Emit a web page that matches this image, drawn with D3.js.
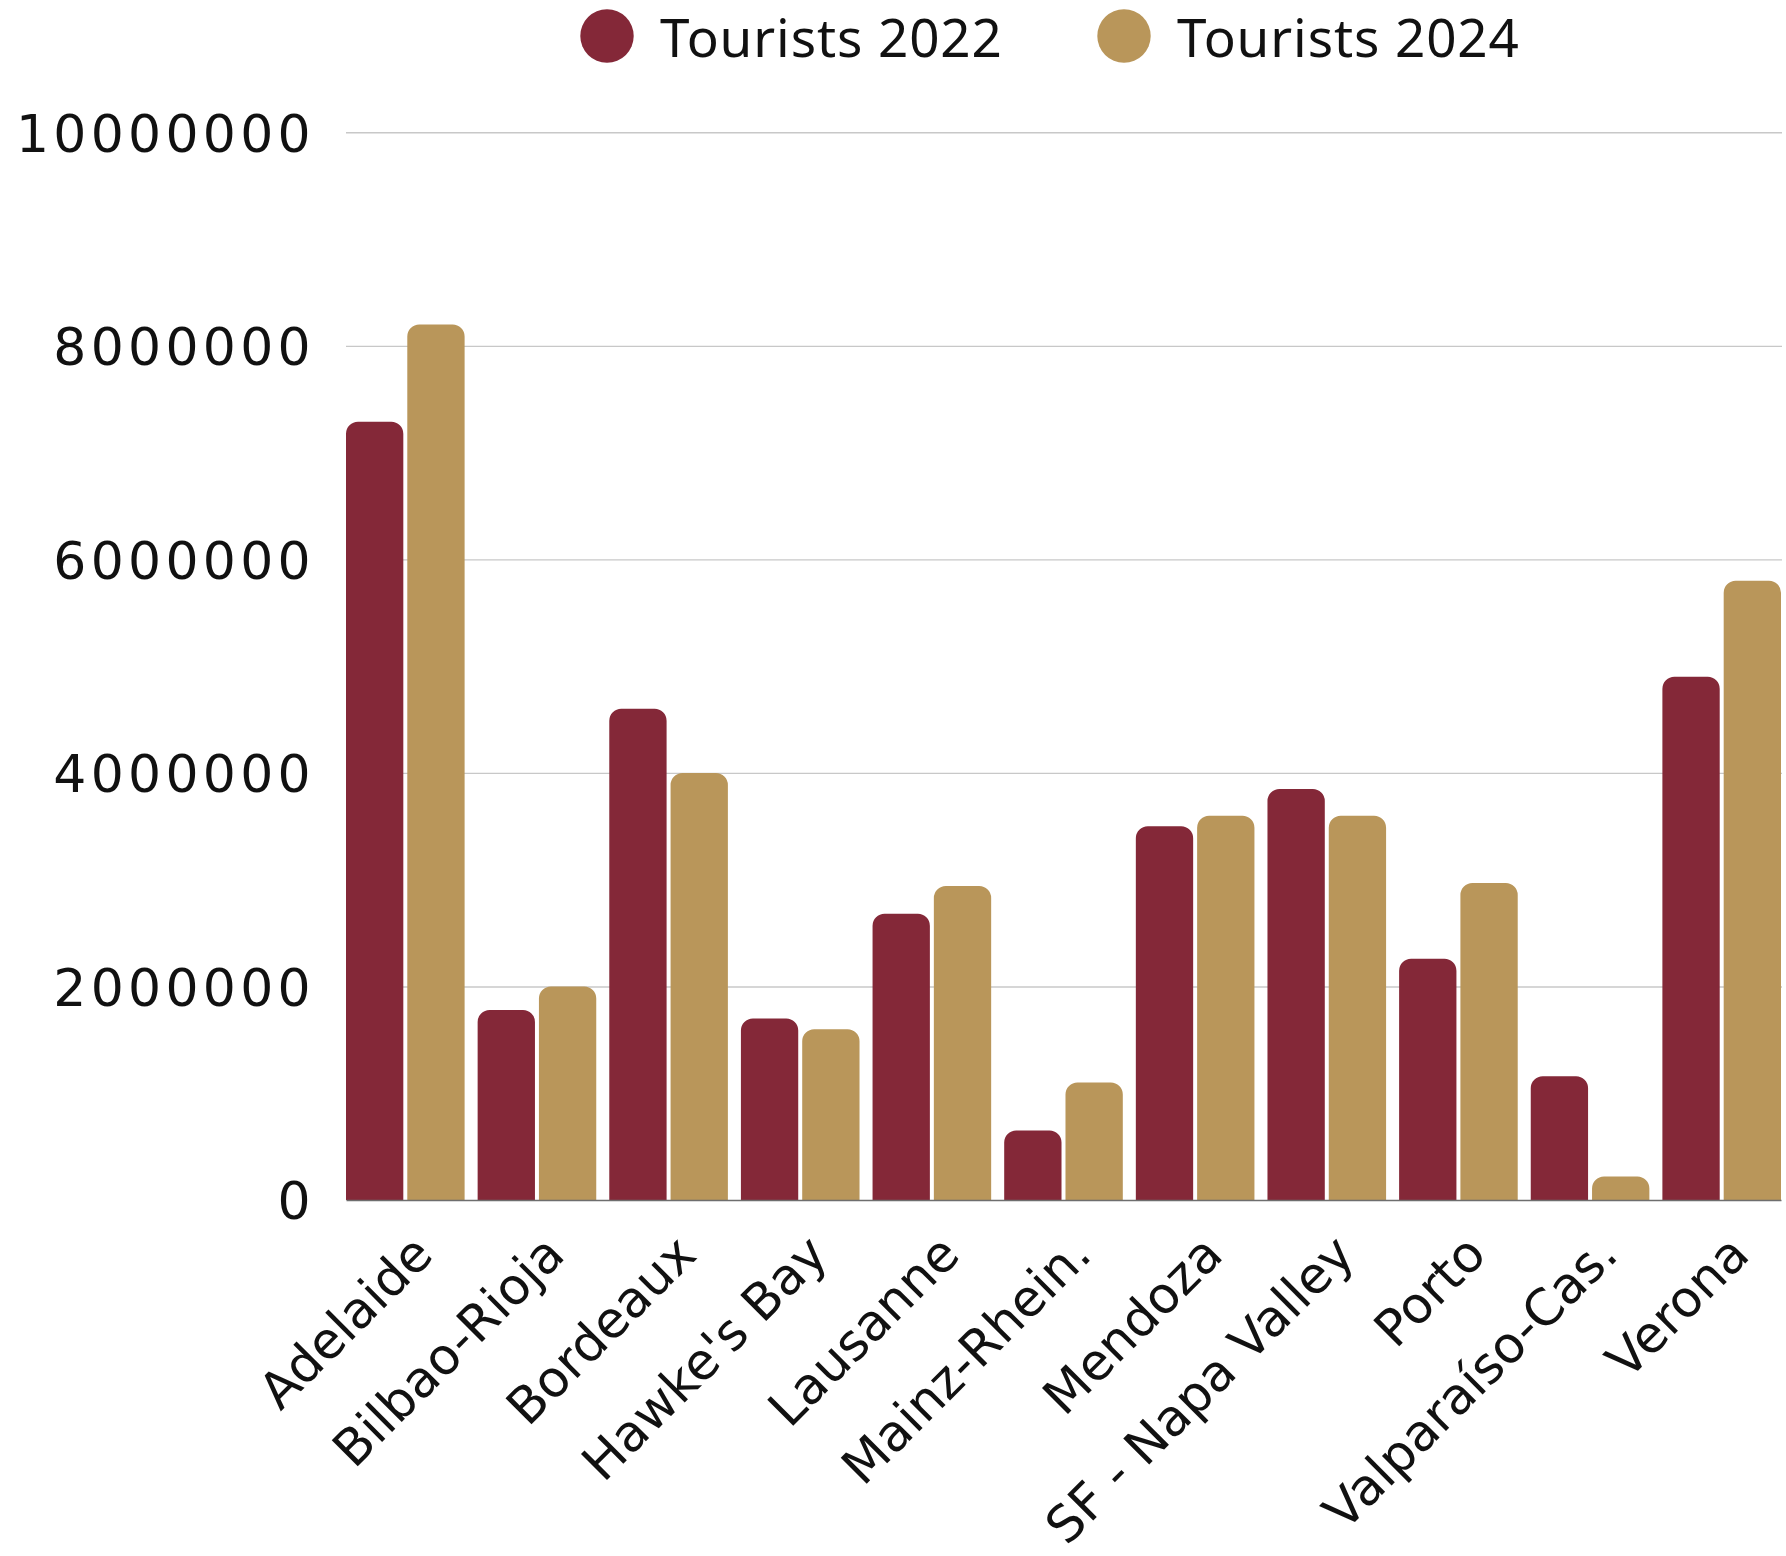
<!DOCTYPE html>
<html>
<head>
<meta charset="utf-8">
<script src="https://cdn.jsdelivr.net/npm/d3@7"></script>
<style>
  html, body { margin: 0; padding: 0; background: #ffffff; }
  svg { display: block; }
</style>
</head>
<body>
<svg id="chart" width="1786" height="1556"></svg>
<script>
// Wine-region visitor counts, two survey years
const regions = ["Adelaide", "Bilbao-Rioja", "Bordeaux", "Hawke's Bay", "Lausanne",
  "Mainz-Rhein.", "Mendoza", "SF - Napa Valley", "Porto", "Valparaíso-Cas.", "Verona"];
const seriesNames = ["Tourists 2022", "Tourists 2024"];
const tourists2022 = [7290000, 1780000, 4600000, 1700000, 2680000, 650000, 3500000, 3850000, 2260000, 1160000, 4900000];
const tourists2024 = [8200000, 2000000, 4000000, 1600000, 2940000, 1100000, 3600000, 3600000, 2970000, 220000, 5800000];
const yTicks = [0, 2000000, 4000000, 6000000, 8000000, 10000000];
const colors = ["#842838", "#b9965a"];

const svg = d3.select("#chart");
const margin = { left: 346, right: 1781, top: 132.3, bottom: 1200 };

const x0 = d3.scaleBand()
  .domain(regions)
  .range([margin.left, margin.right])
  .paddingInner(0.099)
  .paddingOuter(0);

const x1 = d3.scaleBand()
  .domain(seriesNames)
  .range([0, x0.bandwidth()])
  .paddingInner(0.065);

const y = d3.scaleLinear()
  .domain([0, 10000000])
  .range([margin.bottom, margin.top]);

// Horizontal gridlines + value labels
const yAxis = d3.axisLeft(y)
  .tickValues(yTicks)
  .tickFormat(d3.format("d"))
  .tickSize(-(margin.right - margin.left + 1))
  .tickPadding(31);

const gy = svg.append("g")
  .attr("transform", `translate(${margin.left},0)`)
  .call(yAxis);
gy.select(".domain").remove();
gy.selectAll(".tick line")
  .attr("stroke", "#c8c8c8")
  .attr("stroke-width", 1.4)
  .attr("opacity", d => d === 0 ? 0 : 1);
gy.selectAll(".tick text")
  .attr("font-family", "'DejaVu Sans', sans-serif")
  .attr("font-size", 52)
  .attr("letter-spacing", 4.3)
  .attr("fill", "#111")
  .attr("dy", "0.36em");

// Bars with rounded top corners
const rTop = 12;
function barPath(xl, w, yt, yb) {
  const r = Math.min(rTop, w / 2, yb - yt);
  const p = d3.path();
  p.moveTo(xl, yb);
  p.lineTo(xl, yt + r);
  p.arcTo(xl, yt, xl + r, yt, r);
  p.lineTo(xl + w - r, yt);
  p.arcTo(xl + w, yt, xl + w, yt + r, r);
  p.lineTo(xl + w, yb);
  p.closePath();
  return p.toString();
}

const rows = regions.map((name, i) => ({
  name,
  values: [
    { key: seriesNames[0], value: tourists2022[i] },
    { key: seriesNames[1], value: tourists2024[i] }
  ]
}));

const groups = svg.append("g")
  .selectAll("g")
  .data(rows)
  .join("g")
  .attr("transform", d => `translate(${x0(d.name)},0)`);

groups.selectAll("path")
  .data(d => d.values)
  .join("path")
  .attr("fill", (d, i) => colors[i])
  .attr("d", d => barPath(x1(d.key), x1.bandwidth(), y(d.value), y(0)));

// Category axis along the baseline
const xAxis = d3.axisBottom(x0).tickSize(0).tickSizeOuter(0);
const gx = svg.append("g")
  .attr("transform", `translate(0,${y(0)})`)
  .call(xAxis);
gx.select(".domain")
  .attr("stroke", "#6e6e6e")
  .attr("stroke-width", 1.6);
gx.selectAll(".tick text")
  .attr("font-family", "'DejaVu Sans', sans-serif")
  .attr("font-size", 50.5)
  .attr("fill", "#111")
  .attr("x", 0)
  .attr("y", 0)
  .attr("dy", 0)
  .attr("text-anchor", "end")
  .attr("transform", "translate(30,57) rotate(-45)");

// Legend
const legendItems = [
  { name: seriesNames[0], color: colors[0], cx: 607 },
  { name: seriesNames[1], color: colors[1], cx: 1124 }
];
const legend = svg.append("g");
legendItems.forEach(item => {
  legend.append("circle")
    .attr("cx", item.cx)
    .attr("cy", 36)
    .attr("r", 26.7)
    .attr("fill", item.color);
  legend.append("text")
    .attr("x", item.cx + 53)
    .attr("y", 56.5)
    .attr("font-family", "'Noto Sans', sans-serif")
    .attr("font-size", 53)
    .attr("letter-spacing", 0.9)
    .attr("fill", "#111")
    .text(item.name);
});
</script>
</body>
</html>
